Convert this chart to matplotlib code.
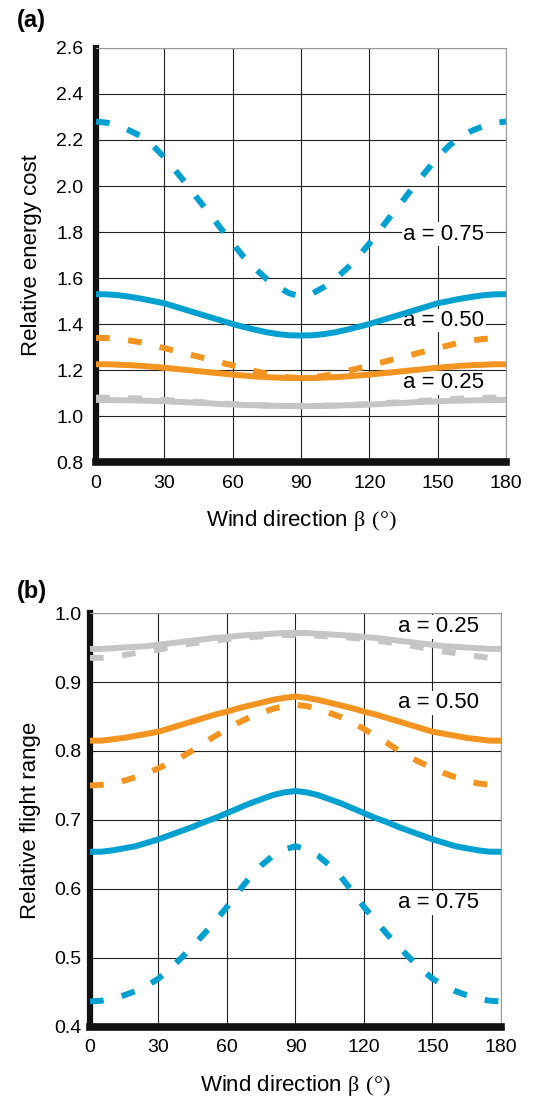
import numpy as np
import matplotlib
matplotlib.use("Agg")
from matplotlib import pyplot as plt

plt.rcParams['font.family'] = ['Liberation Sans', 'DejaVu Sans']
plt.rcParams['mathtext.fontset'] = 'custom'
plt.rcParams['mathtext.rm'] = 'Liberation Serif'

# wind direction 0..90, mirrored for 90..180
beta_half = list(range(0, 91, 5))

# (a) relative energy cost
cost_075_dash = [2.28, 2.275, 2.26, 2.24, 2.215, 2.175, 2.125, 2.065, 2.005, 1.94,
                 1.878, 1.813, 1.75, 1.69, 1.64, 1.595, 1.56, 1.533, 1.52]
cost_050_solid = [1.53, 1.529, 1.525, 1.518, 1.51, 1.50, 1.49, 1.475, 1.46, 1.445,
                  1.43, 1.415, 1.40, 1.387, 1.375, 1.364, 1.356, 1.351, 1.35]
cost_050_dash = [1.34, 1.339, 1.335, 1.328, 1.32, 1.308, 1.295, 1.283, 1.27, 1.258,
                 1.245, 1.232, 1.22, 1.207, 1.195, 1.184, 1.175, 1.168, 1.165]
cost_025_solid = [1.225, 1.225, 1.223, 1.221, 1.218, 1.214, 1.21, 1.205, 1.20, 1.195,
                  1.19, 1.185, 1.18, 1.176, 1.172, 1.169, 1.167, 1.165, 1.165]
cost_gray_solid = [1.07, 1.07, 1.069, 1.068, 1.067, 1.066, 1.064, 1.062, 1.06, 1.057,
                   1.055, 1.052, 1.05, 1.048, 1.047, 1.045, 1.044, 1.043, 1.043]
cost_gray_dash = [1.08, 1.08, 1.079, 1.078, 1.076, 1.073, 1.07, 1.067, 1.064, 1.061,
                  1.058, 1.055, 1.052, 1.05, 1.048, 1.046, 1.045, 1.044, 1.043]

# (b) relative flight range
range_gray_solid = [0.948, 0.948, 0.949, 0.950, 0.951, 0.952, 0.954, 0.956, 0.958, 0.960,
                    0.962, 0.964, 0.965, 0.967, 0.968, 0.969, 0.970, 0.971, 0.971]
range_gray_dash = [0.935, 0.935, 0.937, 0.939, 0.942, 0.944, 0.947, 0.950, 0.953, 0.956,
                   0.958, 0.960, 0.962, 0.964, 0.965, 0.966, 0.967, 0.968, 0.968]
range_orange_solid = [0.815, 0.815, 0.817, 0.819, 0.822, 0.825, 0.828, 0.833, 0.838, 0.843,
                      0.848, 0.853, 0.857, 0.862, 0.866, 0.870, 0.874, 0.877, 0.879]
range_orange_dash = [0.750, 0.751, 0.753, 0.757, 0.762, 0.768, 0.775, 0.783, 0.791, 0.801,
                     0.812, 0.822, 0.832, 0.841, 0.849, 0.855, 0.861, 0.865, 0.867]
range_blue_solid = [0.654, 0.654, 0.656, 0.659, 0.662, 0.667, 0.672, 0.678, 0.684, 0.690,
                    0.697, 0.703, 0.710, 0.717, 0.724, 0.730, 0.736, 0.740, 0.742]
range_blue_dash = [0.437, 0.438, 0.441, 0.446, 0.452, 0.460, 0.470, 0.484, 0.500, 0.517,
                   0.535, 0.554, 0.574, 0.596, 0.617, 0.634, 0.648, 0.657, 0.662]

blue = '#00a0d0'
orange = '#f39420'
gray = '#c4c6c6'


def full(vals):
    # mirror the 0-90 readings to 90-180
    return np.array(vals + vals[-2::-1])


beta = np.array(beta_half + [180 - b for b in beta_half[-2::-1]])

fig = plt.figure(figsize=(5.47, 10.98), dpi=100)
ax1 = fig.add_axes([0.1755, 0.5792, 0.7495, 0.3771])
ax2 = fig.add_axes([0.1645, 0.0647, 0.7514, 0.377])


def style(ax, yticks, ylabel, ypad):
    ax.set_xlim(0, 180)
    ax.set_xticks(range(0, 181, 30))
    ax.set_yticks(yticks)
    ax.set_yticklabels(['%.1f' % t for t in yticks])
    ax.grid(True, color='#222222', lw=0.8)
    ax.set_axisbelow(True)
    ax.tick_params(length=0, labelsize=14)
    ax.tick_params(axis='y', pad=ypad)
    ax.tick_params(axis='x', pad=9)
    for s in ['top', 'right']:
        ax.spines[s].set_color('#999999')
        ax.spines[s].set_linewidth(0.8)
    ax.spines['left'].set_linewidth(4.5)
    ax.spines['bottom'].set_linewidth(5.5)
    ax.spines['left'].set_color('#111111')
    ax.spines['bottom'].set_color('#111111')
    ax.set_ylabel(ylabel, fontsize=16, labelpad=10)
    ax.set_xlabel(r'Wind direction $\mathrm{\beta\ (°)}$', fontsize=16, labelpad=12)


def curve(ax, vals, color, dashed):
    if dashed:
        ax.plot(beta, full(vals), color=color, lw=4.3, dashes=(2.3, 3.1),
                solid_capstyle='butt', dash_capstyle='butt', clip_on=False, zorder=3)
    else:
        ax.plot(beta, full(vals), color=color, lw=4.3, solid_capstyle='butt', clip_on=False, zorder=3)


lab = dict(fontsize=16, ha='left', va='center',
           bbox=dict(facecolor='white', edgecolor='none', pad=1), zorder=2)

# panel (a)
style(ax1, np.arange(0.8, 2.61, 0.2), 'Relative energy cost', 9)
ax1.set_ylim(0.8, 2.6)
curve(ax1, cost_gray_solid, gray, False)
curve(ax1, cost_gray_dash, gray, True)
curve(ax1, cost_025_solid, orange, False)
curve(ax1, cost_050_dash, orange, True)
curve(ax1, cost_050_solid, blue, False)
curve(ax1, cost_075_dash, blue, True)
ax1.text(135, 1.79, 'a = 0.75', **lab)
ax1.text(135, 1.415, 'a = 0.50', **lab)
ax1.text(135, 1.145, 'a = 0.25', **lab)
fig.text(0.031, 0.981, '(a)', fontsize=17, fontweight='bold', va='center')

# panel (b)
style(ax2, np.arange(0.4, 1.01, 0.1), 'Relative flight range', 6)
ax2.set_ylim(0.4, 1.0)
curve(ax2, range_gray_solid, gray, False)
curve(ax2, range_gray_dash, gray, True)
curve(ax2, range_orange_solid, orange, False)
curve(ax2, range_orange_dash, orange, True)
curve(ax2, range_blue_solid, blue, False)
curve(ax2, range_blue_dash, blue, True)
ax2.text(135, 0.980, 'a = 0.25', **lab)
ax2.text(135, 0.870, 'a = 0.50', **lab)
ax2.text(135, 0.580, 'a = 0.75', **lab)
fig.text(0.031, 0.461, '(b)', fontsize=17, fontweight='bold', va='center')

plt.savefig('out.png', dpi=100)
